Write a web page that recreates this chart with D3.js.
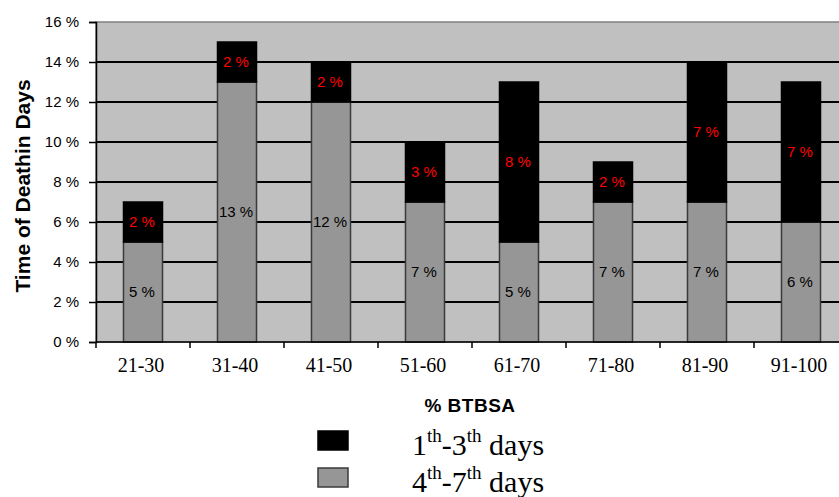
<!DOCTYPE html>
<html>
<head>
<meta charset="utf-8">
<script src="https://cdn.jsdelivr.net/npm/d3@7"></script>
<style>
  body { margin: 0; background: #fff; }
  svg { display: block; }
</style>
</head>
<body>
<svg width="839" height="497"></svg>
<script>
const categories = ["21-30", "31-40", "41-50", "51-60", "61-70", "71-80", "81-90", "91-100"];
const late = [5, 13, 12, 7, 5, 7, 7, 6];   // 4th-7th days (grey, bottom)
const early = [2, 2, 2, 3, 8, 2, 7, 7];    // 1th-3th days (black, top)
const yTicks = [0, 2, 4, 6, 8, 10, 12, 14, 16];

const svg = d3.select("svg");
const plotL = 96, plotR = 848, plotT = 22, plotB = 342;
const pix = "'Liberation Sans', Arial, sans-serif";
const serif = "'Liberation Serif', 'Times New Roman', serif";

const x = d3.scaleBand().domain(categories).range([plotL, plotR]).padding(0);
const y = d3.scaleLinear().domain([0, 16]).range([plotB, plotT]);
const barW = x.bandwidth() * 0.415;

const data = categories.map((c, i) => ({ cat: c, late: late[i], early: early[i] }));

// plot area
svg.append("rect")
  .attr("x", plotL).attr("y", plotT)
  .attr("width", plotR - plotL).attr("height", plotB - plotT)
  .attr("fill", "#c0c0c0")
  .attr("stroke", "#808080").attr("stroke-width", 1.5);

// gridlines
svg.append("g")
  .selectAll("line")
  .data(yTicks.filter(d => d > 0 && d < 16))
  .join("line")
  .attr("x1", plotL).attr("x2", plotR)
  .attr("y1", d => y(d)).attr("y2", d => y(d))
  .attr("stroke", "#000").attr("stroke-width", 2);

// bars
const bars = svg.append("g");
bars.selectAll(".late")
  .data(data)
  .join("rect")
  .attr("class", "late")
  .attr("x", d => x(d.cat) + (x.bandwidth() - barW) / 2)
  .attr("width", barW)
  .attr("y", d => y(d.late))
  .attr("height", d => y(0) - y(d.late))
  .attr("fill", "#969696")
  .attr("stroke", "#3a3a3a").attr("stroke-width", 1.5);

bars.selectAll(".early")
  .data(data)
  .join("rect")
  .attr("class", "early")
  .attr("x", d => x(d.cat) + (x.bandwidth() - barW) / 2)
  .attr("width", barW)
  .attr("y", d => y(d.late + d.early))
  .attr("height", d => y(d.late) - y(d.late + d.early))
  .attr("fill", "#000")
  .attr("stroke", "#000").attr("stroke-width", 1.5);

// value labels
bars.selectAll(".late-lbl")
  .data(data)
  .join("text")
  .attr("x", d => x(d.cat) + x.bandwidth() / 2 - 1)
  .attr("y", d => y(d.late / 2))
  .attr("dy", "0.35em")
  .attr("text-anchor", "middle")
  .attr("font-family", pix).attr("font-size", 15)
  .attr("fill", "#000")
  .text(d => d.late + " %");

bars.selectAll(".early-lbl")
  .data(data)
  .join("text")
  .attr("x", d => x(d.cat) + x.bandwidth() / 2 - 1)
  .attr("y", d => y(d.late + d.early / 2))
  .attr("dy", "0.35em")
  .attr("text-anchor", "middle")
  .attr("font-family", pix).attr("font-size", 15)
  .attr("fill", "#ff0000")
  .text(d => d.early + " %");

// y axis
const yAxis = svg.append("g")
  .attr("transform", `translate(${plotL},0)`)
  .call(d3.axisLeft(y).tickValues(yTicks).tickFormat(d => d + " %").tickSize(7).tickPadding(10));
yAxis.select(".domain").attr("stroke", "#000").attr("stroke-width", 1.5);
yAxis.selectAll(".tick line").attr("stroke", "#000").attr("stroke-width", 1.5);
yAxis.selectAll(".tick text")
  .attr("font-family", pix).attr("font-size", 15).attr("fill", "#000");

// x axis
svg.append("line")
  .attr("x1", plotL).attr("x2", plotR)
  .attr("y1", plotB).attr("y2", plotB)
  .attr("stroke", "#000").attr("stroke-width", 1.5);

svg.append("g")
  .selectAll("line")
  .data(categories.map(c => x(c)).concat([plotR]))
  .join("line")
  .attr("x1", d => d).attr("x2", d => d)
  .attr("y1", plotB).attr("y2", plotB + 6)
  .attr("stroke", "#000").attr("stroke-width", 1.5);

svg.append("g")
  .selectAll("text")
  .data(categories)
  .join("text")
  .attr("x", d => x(d) + x.bandwidth() / 2 - 2)
  .attr("y", 372)
  .attr("text-anchor", "middle")
  .attr("font-family", serif).attr("font-size", 20)
  .text(d => d);

// axis titles
svg.append("text")
  .attr("transform", "translate(30,186) rotate(-90)")
  .attr("text-anchor", "middle")
  .attr("font-family", pix).attr("font-size", 21).attr("font-weight", "bold")
  .text("Time of Deathin Days");

svg.append("text")
  .attr("x", 470).attr("y", 412)
  .attr("text-anchor", "middle")
  .attr("font-family", pix).attr("font-size", 19).attr("font-weight", "bold")
  .attr("letter-spacing", 0.5)
  .text("% BTBSA");

// legend
const legendItems = [
  { fill: "#000", stroke: "#000", a: "1", b: "3", y: 431 },
  { fill: "#969696", stroke: "#3a3a3a", a: "4", b: "7", y: 468 }
];
const lg = svg.append("g");
legendItems.forEach(it => {
  lg.append("rect")
    .attr("x", 318).attr("y", it.y)
    .attr("width", 30).attr("height", 19)
    .attr("fill", it.fill).attr("stroke", it.stroke).attr("stroke-width", 1.5);
  const t = lg.append("text")
    .attr("x", 412).attr("y", it.y + 24)
    .attr("font-family", serif).attr("font-size", 30);
  t.append("tspan").text(it.a);
  t.append("tspan").attr("font-size", 19).attr("dy", -13).text("th");
  t.append("tspan").attr("dy", 13).text("-" + it.b);
  t.append("tspan").attr("font-size", 19).attr("dy", -13).text("th");
  t.append("tspan").attr("dy", 13).text(" days");
});
</script>
</body>
</html>
